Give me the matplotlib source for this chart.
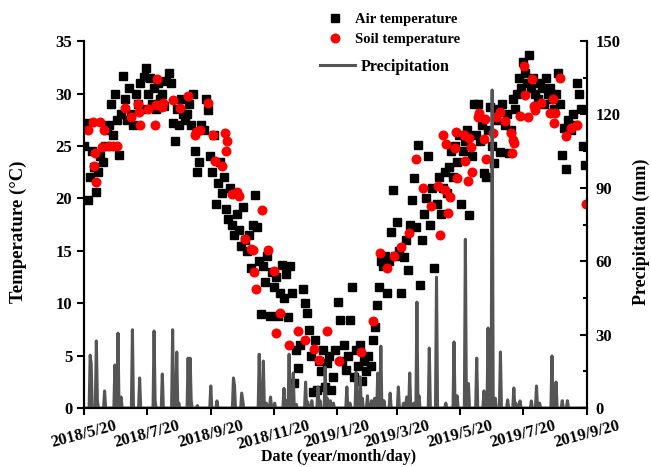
import numpy as np
import pandas as pd
import matplotlib
matplotlib.use('Agg')
import matplotlib.pyplot as plt
from matplotlib.ticker import MultipleLocator
from matplotlib.transforms import ScaledTranslation

plt.rcParams['font.family'] = ['Liberation Serif', 'DejaVu Serif']
plt.rcParams['font.weight'] = 'bold'

# datos
fecha_inicio = pd.Timestamp('2018-05-20')
fecha_fin = pd.Timestamp('2019-09-20')

# temperatura del aire, cada 2 dias desde 2018/5/20
temp_aire = [
    25.0, 27.2, 19.8, 22.0, 24.5, 23.0, 20.6, 22.5, 24.0, 23.5,
    25.0, 26.5, 27.0, 29.0, 26.0, 30.0, 27.5, 24.1, 28.0, 31.7,
    29.5, 27.5, 30.5, 28.0, 27.0, 30.0, 29.0, 31.0, 28.5, 31.6,
    32.4, 30.0, 31.5, 29.0, 30.5, 28.5, 31.0, 29.5, 30.0, 28.8,
    31.2, 32.0, 31.0, 27.2, 25.5, 28.5, 27.0, 29.5, 28.0, 27.5,
    28.0, 29.0, 27.0, 30.0, 24.5, 22.5, 23.5, 27.0, 26.5, 29.5,
    28.4, 24.0, 22.5, 26.0, 19.5, 21.5, 23.5, 20.5, 22.0, 19.0,
    18.0, 21.0, 17.5, 16.5, 18.5, 17.0, 15.5, 19.2, 16.0, 15.0,
    16.5, 13.4, 17.5, 20.3, 17.3, 14.0, 9.0, 13.5, 12.0, 14.5,
    8.8, 13.0, 11.5, 12.5, 8.8, 11.0, 13.6, 10.5, 12.8, 8.7,
    13.5, 11.0, 2.4, 5.5, 3.8, 6.0, 11.4, 10.0, 9.1, 7.4,
    5.0, 1.5, 6.5, 1.7, 4.5, 3.5, 5.5, 2.0, 4.3, 5.0,
    1.7, 3.0, 5.5, 10.1, 8.4, 4.5, 6.0, 3.6, 5.0, 8.4,
    11.5, 3.0, 5.5, 4.0, 6.0, 2.6, 4.5, 3.5, 5.0, 4.0,
    6.5, 7.7, 9.8, 11.5, 14.0, 13.5, 14.5, 11.0, 14.0, 16.8,
    20.8, 14.5, 17.7, 15.0, 11.0, 14.4, 16.0, 13.2, 17.5, 19.8,
    21.9, 17.3, 25.1, 11.7, 16.0, 18.5, 20.0, 24.0, 17.5, 21.0,
    13.4, 19.5, 22.0, 18.5, 21.0, 22.5, 20.5, 23.0, 24.5, 22.0,
    25.0, 23.5, 26.0, 19.5, 24.5, 25.5, 26.5, 18.4, 24.0, 29.0,
    26.0, 29.0, 25.5, 27.0, 22.4, 22.0, 26.5, 28.7, 25.0, 23.4,
    27.5, 28.5, 24.4, 29.0, 27.0, 28.0, 24.3, 26.5, 29.5, 28.5,
    30.0, 31.5, 30.5, 33.0, 32.0, 31.0, 33.7, 30.5, 31.5, 30.0,
    29.5, 31.0, 30.5, 29.0, 31.5, 30.0, 30.5, 29.5, 28.5, 30.0,
    32.0, 29.0, 24.1, 26.7, 22.8, 27.5, 26.5, 28.0, 27.0, 31.0,
    30.0, 28.5, 25.0, 23.2,
]

# temperatura del suelo (dia desde el inicio, valor)
dias_suelo = [4, 9, 10, 11, 12, 16, 17, 19, 24, 28, 32, 40, 46, 52, 53, 54, 62, 69, 70, 71,
              76, 77, 86, 93, 101, 108, 109, 113, 120, 125, 127, 134, 137, 138, 139, 144, 148, 150,
              156, 162, 164, 165, 167, 173, 179, 184, 186, 190, 199, 208, 214, 223, 228, 236, 247,
              269, 280, 287, 294, 301, 308, 315, 322, 329, 337, 343, 345, 348, 350, 351, 353, 355,
              360, 361, 362, 369, 370, 373, 374, 375, 376, 382, 383, 388, 389, 390, 397, 400, 404,
              408, 414, 415, 416, 417, 423, 427, 428, 431, 435, 437, 438, 443, 452, 455, 456, 457,
              462, 468, 472, 478, 487]
temp_suelo = [26.5, 27.3, 23.1, 24.3, 21.6, 27.3, 24.9, 26.5, 25.0, 25.0, 25.0, 28.6, 27.8, 29.0, 28.2, 27.0, 28.5, 27.0, 28.9, 31.4,
              28.7, 29.1, 29.4, 28.6, 29.8, 26.0, 26.3, 26.5, 29.1, 26.0, 23.6, 23.1, 26.2, 24.5, 25.5, 20.4, 20.6, 20.2,
              16.1, 15.2, 15.1, 13.0, 11.4, 18.9, 15.1, 13.1, 7.2, 9.1, 6.0, 7.3, 6.5, 5.6, 4.6, 7.3, 4.5,
              5.3, 8.3, 14.8, 13.4, 14.5, 15.4, 16.7, 23.8, 21.0, 19.3, 21.2, 16.5, 26.0, 20.8, 25.2, 18.6, 20.1,
              24.8, 26.3, 21.9, 26.0, 23.6, 21.7, 25.8, 24.9, 22.5, 27.8, 28.1, 25.7, 27.6, 23.8, 26.2, 27.8, 28.2,
              27.4, 26.2, 24.3, 25.6, 25.3, 27.9, 32.6, 29.9, 27.8, 31.4, 28.8, 28.4, 29.1, 28.1, 29.5, 27.2, 28.1,
              31.5, 25.9, 26.7, 27.0, 19.5]

# precipitacion (dia con lluvia, mm)
dias_lluvia = [6, 7, 12, 13, 20, 30, 33, 36, 47, 54, 68, 69, 76, 86, 90, 92, 101, 103, 104, 110,
               123, 129, 145, 146, 153, 154, 170, 172, 174, 177, 181, 185, 194, 197, 199, 201, 203, 206,
               215, 217, 221, 227, 229, 234, 236, 239, 242, 255, 258, 264, 266, 268, 270, 275, 279, 282,
               285, 288, 291, 297, 305, 310, 313, 316, 320, 323, 325, 335, 342, 351, 359, 362, 370, 373,
               381, 388, 392, 394, 396, 399, 404, 411, 417, 419, 423, 434, 439, 442, 454, 458, 464, 469]
lluvia_mm = [21.6, 18.0, 27.4, 3.0, 7.0, 17.6, 30.6, 4.5, 32.0, 12.3, 31.5, 3.0, 13.9, 32.0, 22.9, 2.0, 20.4, 20.4, 3.0, 1.0,
             9.0, 2.9, 12.3, 9.4, 6.1, 3.0, 22.0, 3.0, 19.2, 2.0, 4.5, 2.0, 8.0, 3.0, 22.0, 5.0, 14.3, 1.5,
             10.6, 2.5, 3.0, 8.6, 3.0, 16.8, 4.0, 3.0, 2.0, 8.6, 2.0, 14.7, 5.0, 12.7, 4.0, 5.0, 3.0, 4.0,
             14.3, 25.3, 3.0, 6.1, 8.6, 2.0, 4.5, 14.3, 2.0, 43.3, 5.0, 24.5, 53.5, 2.0, 27.0, 5.0, 69.0, 10.0,
             20.4, 7.0, 32.7, 30.6, 130.0, 4.0, 22.9, 3.3, 8.2, 2.0, 2.9, 2.9, 9.0, 2.0, 21.3, 10.6, 3.0, 3.0]

marcas_x = ['2018/5/20', '2018/7/20', '2018/9/20', '2018/11/20', '2019/1/20',
            '2019/3/20', '2019/5/20', '2019/7/20', '2019/9/20']

# construyo las series
fechas_aire = fecha_inicio + pd.to_timedelta(np.arange(len(temp_aire)) * 2, unit='D')
fechas_suelo = fecha_inicio + pd.to_timedelta(dias_suelo, unit='D')
n_dias = (fecha_fin - fecha_inicio).days + 1
lluvia = np.zeros(n_dias)
lluvia[dias_lluvia] = lluvia_mm
fechas_lluvia = pd.date_range(fecha_inicio, periods=n_dias, freq='D')

# grafico
fig = plt.figure(figsize=(6.51, 4.67), dpi=100)
ax = fig.add_axes([0.129, 0.1263, 0.7727, 0.7857])
ax2 = ax.twinx()

l_aire, = ax.plot(fechas_aire, temp_aire, linestyle='none', marker='s', ms=6.4,
                  color='black', label='Air temperature')
l_suelo, = ax.plot(fechas_suelo, temp_suelo, linestyle='none', marker='o', ms=7.2,
                   color='red', markeredgewidth=0, label='Soil temperature')
l_lluvia, = ax2.plot(fechas_lluvia, lluvia, color='#555555', lw=2.2, label='Precipitation')

ax.set_xlim(fecha_inicio, fecha_fin)
ax.set_ylim(0, 35)
ax2.set_ylim(0, 150)
ax.yaxis.set_major_locator(MultipleLocator(5))
ax2.yaxis.set_major_locator(MultipleLocator(30))
ax2.yaxis.set_minor_locator(MultipleLocator(15))

pos_x = [pd.Timestamp(m.replace('/', '-')) for m in marcas_x]
ax.set_xticks(pos_x)
ax.set_xticklabels(marcas_x, rotation=15, ha='center', fontsize=11, fontweight='bold')
desplaza = ScaledTranslation(-6 / 100, -1 / 100, fig.dpi_scale_trans)
for t in ax.get_xticklabels():
    t.set_transform(t.get_transform() + desplaza)

for a in (ax, ax2):
    a.spines['top'].set_visible(False)
    for s in ('left', 'right', 'bottom'):
        a.spines[s].set_linewidth(1.5)
ax.tick_params(axis='both', direction='out', length=5, width=1.5, labelsize=12)
ax.tick_params(axis='x', pad=2)
ax2.tick_params(axis='y', which='major', direction='in', length=5, width=1.5, labelsize=12, pad=6)
ax2.tick_params(axis='y', which='minor', direction='in', length=3, width=1.5)
for t in ax.get_yticklabels() + ax2.get_yticklabels():
    t.set_fontweight('bold')

ax.set_ylabel('Temperature (°C)', fontsize=13.5, fontweight='bold')
ax.yaxis.set_label_coords(-0.113, 0.48)
ax2.set_ylabel('Precipitation (mm)', fontsize=13, fontweight='bold')
ax2.yaxis.set_label_coords(1.09, 0.48)
fig.text(0.52, 0.021, 'Date (year/month/day)', fontsize=11.5, fontweight='bold',
         ha='center', va='center')

fig.legend(handles=[l_aire, l_suelo], loc='upper left', bbox_to_anchor=(0.483, 1.0),
           frameon=False, handlelength=1.0, handletextpad=0.9, labelspacing=0.45,
           prop={'weight': 'bold', 'size': 10.5})
fig.legend(handles=[l_lluvia], loc='upper left', bbox_to_anchor=(0.47, 0.905),
           frameon=False, handlelength=2.2, handletextpad=0.3,
           prop={'weight': 'bold', 'size': 11.5})

plt.savefig('out.png', dpi=100)
